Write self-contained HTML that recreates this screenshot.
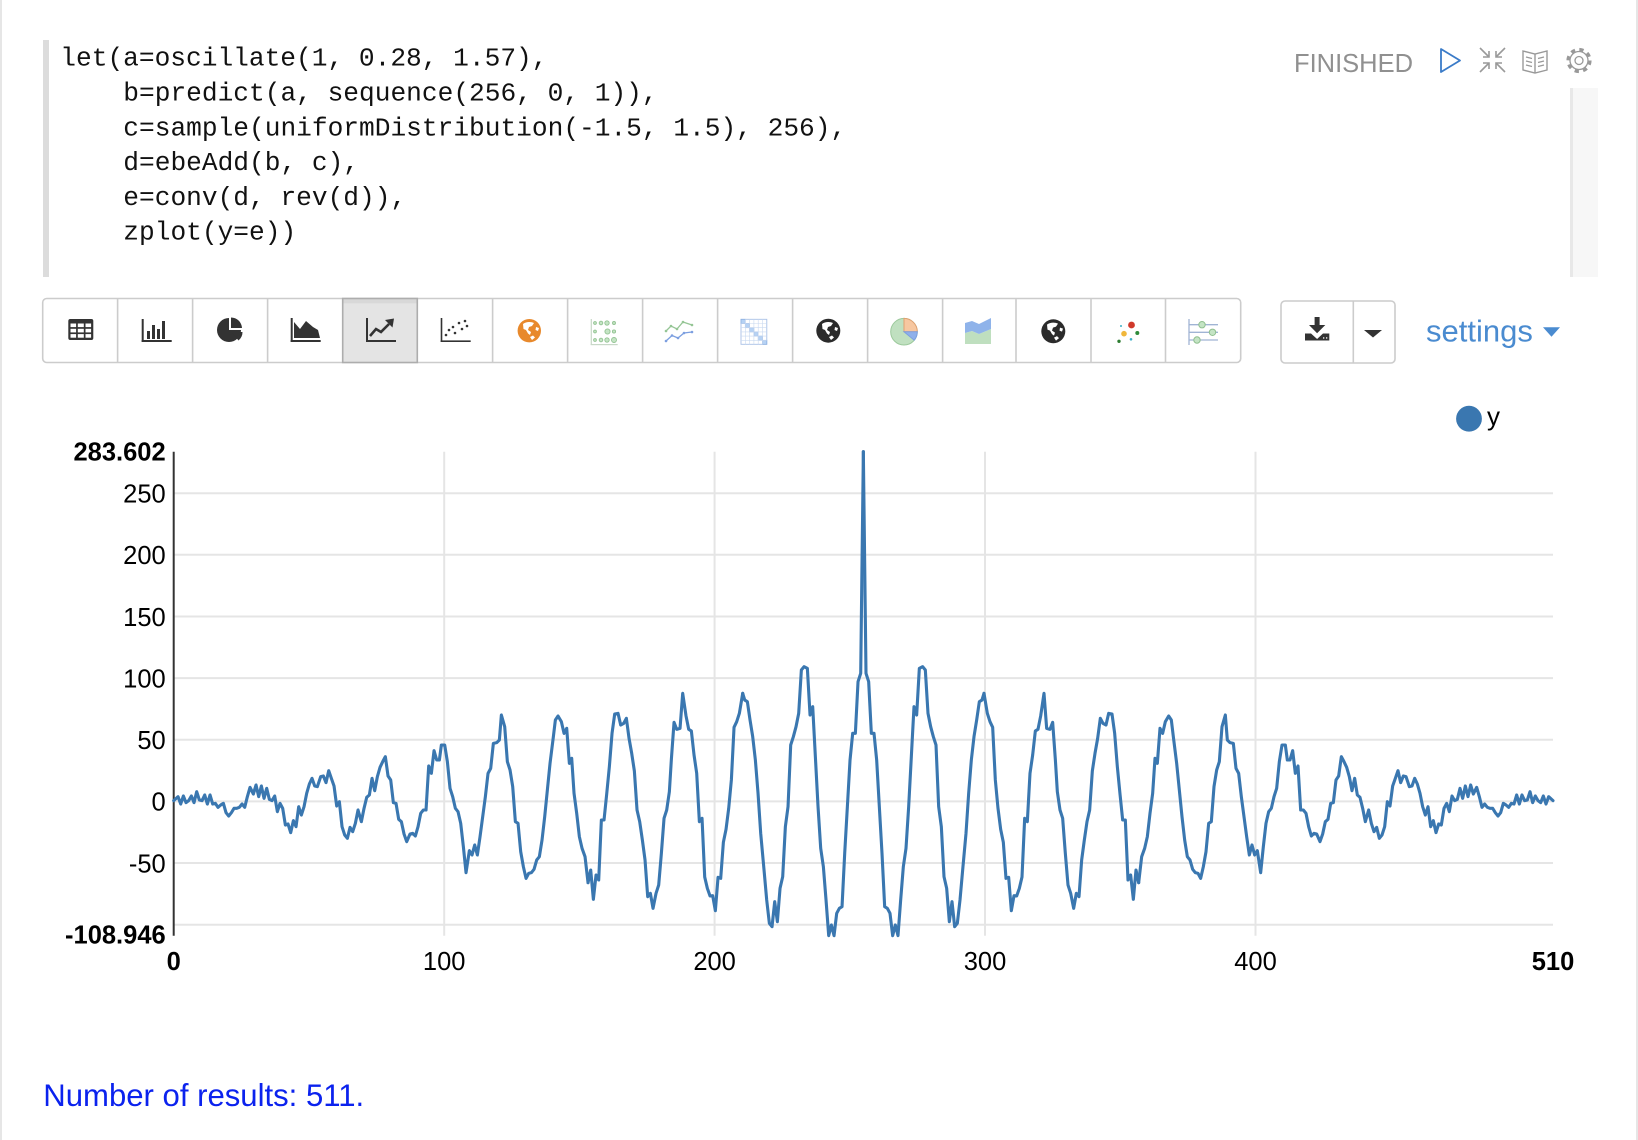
<!DOCTYPE html>
<html>
<head>
<meta charset="utf-8">
<style>
  html,body{margin:0;padding:0;background:#fff;}
  svg{display:block;}
  .mono{font-family:"Liberation Mono","DejaVu Sans Mono",monospace;}
  .sans{font-family:"Liberation Sans","DejaVu Sans",Arial,sans-serif;}
</style>
</head>
<body>
<svg width="1638" height="1140" viewBox="0 0 1638 1140" xmlns="http://www.w3.org/2000/svg">
  <rect x="0" y="0" width="1638" height="1140" fill="#fff"/>
  <!-- outer borders -->
  <rect x="0" y="0" width="2" height="1140" fill="#e6e6e6"/>
  <rect x="1636" y="0" width="2" height="1140" fill="#e6e6e6"/>

  <!-- code editor -->
  <rect x="43" y="40" width="6" height="237" fill="#dcdcdc"/>
  <rect x="1570" y="88" width="28" height="189" fill="#f7f7f7"/>
  <rect x="1570" y="88" width="3" height="189" fill="#e8e8e8"/>
  <g class="mono" font-size="26.2" fill="#111">
    <text x="60.3" y="65.7">let(a=oscillate(1, 0.28, 1.57),</text>
    <text x="123.3" y="100.5">b=predict(a, sequence(256, 0, 1)),</text>
    <text x="123.3" y="135.3">c=sample(uniformDistribution(-1.5, 1.5), 256),</text>
    <text x="123.3" y="170.1">d=ebeAdd(b, c),</text>
    <text x="123.3" y="204.9">e=conv(d, rev(d)),</text>
    <text x="123.3" y="239.7">zplot(y=e))</text>
  </g>

  <!-- FINISHED + top icons -->
  <text class="sans" x="1294" y="72" font-size="25.5" fill="#909090">FINISHED</text>
  <polygon points="1441,49 1460,60.5 1441,72" fill="none" stroke="#3a7bc8" stroke-width="1.8" stroke-linejoin="round"/>
  <g stroke="#999" stroke-width="1.6" fill="none">
    <line x1="1480" y1="48" x2="1489" y2="57"/><polyline points="1483,57 1489,57 1489,51"/>
    <line x1="1505" y1="48" x2="1496" y2="57"/><polyline points="1502,57 1496,57 1496,51"/>
    <line x1="1480" y1="72" x2="1489" y2="63"/><polyline points="1483,63 1489,63 1489,69"/>
    <line x1="1505" y1="72" x2="1496" y2="63"/><polyline points="1502,63 1496,63 1496,69"/>
  </g>
  <g stroke="#999" stroke-width="1.4" fill="none">
    <path d="M1523,51 L1535,54 L1547,51 L1547,70 L1535,73 L1523,70 Z"/>
    <line x1="1535" y1="54" x2="1535" y2="73"/>
    <line x1="1526" y1="57" x2="1532" y2="58.5"/><line x1="1526" y1="61" x2="1532" y2="62.5"/><line x1="1526" y1="65" x2="1532" y2="66.5"/>
    <line x1="1538" y1="58.5" x2="1544" y2="57"/><line x1="1538" y1="62.5" x2="1544" y2="61"/><line x1="1538" y1="66.5" x2="1544" y2="65"/>
  </g>
  <g fill="none" stroke="#999">
    <circle cx="1579" cy="60.5" r="11" stroke-width="3.2" stroke-dasharray="4.3 4.34"/>
    <circle cx="1579" cy="60.5" r="9" stroke-width="1.3"/>
    <circle cx="1579" cy="60.5" r="4" stroke-width="1.3"/>
  </g>

  <!-- toolbar -->
  <rect x="42.7" y="298.5" width="1198" height="64" rx="4" fill="#fff" stroke="#ccc" stroke-width="1.6"/>
  <rect x="342.7" y="299.3" width="74.6" height="62.4" fill="#e4e4e4"/>
  <rect x="342.7" y="299.3" width="74.6" height="4" fill="#d8d8d8"/>
  <rect x="342.7" y="298.5" width="74.6" height="64" fill="none" stroke="#adadad" stroke-width="1.6"/>
  <g stroke="#ccc" stroke-width="1.6">
    <line x1="117.6" y1="299" x2="117.6" y2="362"/>
    <line x1="192.6" y1="299" x2="192.6" y2="362"/>
    <line x1="267.6" y1="299" x2="267.6" y2="362"/>
    <line x1="492.6" y1="299" x2="492.6" y2="362"/>
    <line x1="567.6" y1="299" x2="567.6" y2="362"/>
    <line x1="642.6" y1="299" x2="642.6" y2="362"/>
    <line x1="717.6" y1="299" x2="717.6" y2="362"/>
    <line x1="792.6" y1="299" x2="792.6" y2="362"/>
    <line x1="867.6" y1="299" x2="867.6" y2="362"/>
    <line x1="942.6" y1="299" x2="942.6" y2="362"/>
    <line x1="1016" y1="299" x2="1016" y2="362"/>
    <line x1="1091" y1="299" x2="1091" y2="362"/>
    <line x1="1165.5" y1="299" x2="1165.5" y2="362"/>
  </g>

  <!-- icon 0 table -->
  <rect x="68.3" y="319" width="25" height="21" rx="2" fill="#333"/>
  <g fill="#fff">
    <rect x="70.5" y="323.5" width="5.6" height="3.6"/><rect x="77.8" y="323.5" width="6" height="3.6"/><rect x="85.5" y="323.5" width="5.6" height="3.6"/>
    <rect x="70.5" y="328.8" width="5.6" height="3.6"/><rect x="77.8" y="328.8" width="6" height="3.6"/><rect x="85.5" y="328.8" width="5.6" height="3.6"/>
    <rect x="70.5" y="334.1" width="5.6" height="3.6"/><rect x="77.8" y="334.1" width="6" height="3.6"/><rect x="85.5" y="334.1" width="5.6" height="3.6"/>
  </g>
  <!-- icon 1 bar -->
  <g fill="#333">
    <rect x="141.7" y="319" width="2" height="23"/><rect x="141.7" y="340" width="30" height="2"/>
    <rect x="147" y="331" width="3" height="8"/><rect x="152" y="325" width="3" height="14"/><rect x="157" y="329" width="3" height="10"/><rect x="162" y="321" width="3" height="18"/>
  </g>
  <!-- icon 2 pie -->
  <path d="M229,330 L241,330 A12,12 0 1 1 229,318 Z" fill="#333"/>
  <path d="M231,328 L231,317.5 A11,11 0 0 1 242,328 Z" fill="#333"/>
  <path d="M231.5,332 L242.5,332 A11,11 0 0 1 238.5,340.5 Z" fill="#333"/>
  <!-- icon 3 area -->
  <g fill="#333">
    <rect x="290.7" y="318" width="2" height="24"/><rect x="290.7" y="340" width="30" height="2"/>
    <polygon points="294,338 294,322 300,329 306,321 313,327 318,330 320,338"/>
  </g>
  <!-- icon 4 line -->
  <g fill="#333">
    <rect x="366" y="318" width="2" height="24"/><rect x="366" y="340" width="30" height="2"/>
  </g>
  <polyline points="370,336 376,329 381,332 389,324" fill="none" stroke="#333" stroke-width="2.6"/>
  <polygon points="385,320 394,318.5 392.5,327.5" fill="#333"/>
  <!-- icon 5 scatter -->
  <g fill="#333">
    <rect x="440.7" y="318" width="1.6" height="24"/><rect x="440.7" y="340.4" width="30" height="1.6"/>
    <circle cx="446" cy="335" r="1.3"/><circle cx="449" cy="330" r="1.3"/><circle cx="453" cy="327" r="1.3"/><circle cx="455" cy="333" r="1.3"/>
    <circle cx="459" cy="323" r="1.3"/><circle cx="462" cy="329" r="1.3"/><circle cx="465" cy="321" r="1.3"/><circle cx="467" cy="326" r="1.3"/>
  </g>
  <!-- icon 6 orange globe -->
  <circle cx="529.3" cy="330.7" r="11.7" fill="#e8892c"/>
  <path d="M523,324 C526,321.5 531,321.5 534,323 L532,326 L529,327 L528,330 L531,332 L530,335 L528,333.5 L526,330 L523.5,329 Z M530,337 L533,335.5 L535,337.5 L532,340 Z M536,327 L539,328 L538,331 L535.5,330 Z" fill="#fff"/>
  <!-- icon 7 dot grid -->
  <g>
    <rect x="590.7" y="319" width="1.2" height="26" fill="#c8d8c8"/><rect x="590.7" y="344" width="27" height="1.2" fill="#c8d8c8"/>
    <g fill="#c4e4c4" stroke="#93c393" stroke-width="0.9">
      <circle cx="595" cy="323" r="1.4"/><circle cx="601" cy="323" r="1.8"/><circle cx="607" cy="323" r="2.2"/><circle cx="614" cy="323" r="1.5"/>
      <circle cx="595" cy="331.5" r="1.4"/><circle cx="607.5" cy="331.5" r="2.6"/><circle cx="614" cy="331.5" r="1.6"/>
      <circle cx="595" cy="340" r="1.4"/><circle cx="601" cy="340" r="1.8"/><circle cx="607" cy="340" r="2.2"/><circle cx="614" cy="340" r="2.5"/>
    </g>
  </g>
  <!-- icon 8 two lines -->
  <polyline points="666,331 671,326 677,329 683,322 692,325" fill="none" stroke="#95c595" stroke-width="1.3"/>
  <g fill="#95c595"><circle cx="666" cy="331" r="1.3"/><circle cx="671" cy="326" r="1.3"/><circle cx="677" cy="329" r="1.3"/><circle cx="683" cy="322" r="1.3"/><circle cx="692" cy="325" r="1.3"/></g>
  <polyline points="666,341 672,335.5 678,338 684,333 692,332" fill="none" stroke="#7c9fe0" stroke-width="1.3"/>
  <g fill="#7c9fe0"><circle cx="666" cy="341" r="1.3"/><circle cx="672" cy="335.5" r="1.3"/><circle cx="678" cy="338" r="1.3"/><circle cx="684" cy="333" r="1.3"/><circle cx="692" cy="332" r="1.3"/></g>
  <!-- icon 9 heatmap -->
  <g>
    <rect x="741" y="319.3" width="25.8" height="25" fill="#fff" stroke="#a8c0e6" stroke-width="0.9"/>
    <g fill="#b6d2f4" stroke="#8aaee0" stroke-width="0.7">
      <rect x="741" y="319.3" width="4.3" height="4.2"/><rect x="745.3" y="323.5" width="4.3" height="4.2"/><rect x="749.6" y="327.7" width="4.3" height="4.2"/>
      <rect x="753.9" y="331.9" width="4.3" height="4.2"/><rect x="758.2" y="336.1" width="4.3" height="4.2"/><rect x="762.5" y="340.3" width="4.3" height="4"/>
    </g>
    <g stroke="#c9d9f0" stroke-width="0.6">
      <line x1="745.3" y1="319.3" x2="745.3" y2="344.3"/><line x1="749.6" y1="319.3" x2="749.6" y2="344.3"/><line x1="753.9" y1="319.3" x2="753.9" y2="344.3"/><line x1="758.2" y1="319.3" x2="758.2" y2="344.3"/><line x1="762.5" y1="319.3" x2="762.5" y2="344.3"/>
      <line x1="741" y1="323.5" x2="766.8" y2="323.5"/><line x1="741" y1="327.7" x2="766.8" y2="327.7"/><line x1="741" y1="331.9" x2="766.8" y2="331.9"/><line x1="741" y1="336.1" x2="766.8" y2="336.1"/><line x1="741" y1="340.3" x2="766.8" y2="340.3"/>
    </g>
  </g>
  <!-- icon 10 black globe -->
  <circle cx="828.3" cy="330.7" r="12" fill="#2b2b2b"/>
  <path d="M822,324 C825,321.5 830,321.5 833,323 L831,326 L828,327 L827,330 L830,332 L829,335 L827,333.5 L825,330 L822.5,329 Z M829,337 L832,335.5 L834,337.5 L831,340 Z M835,327 L838,328 L837,331 L834.5,330 Z" fill="#fff"/>
  <!-- icon 11 pastel pie -->
  <circle cx="904" cy="331.7" r="13.3" fill="#c0e0c0" stroke="#9cc99c" stroke-width="1"/>
  <path d="M904,331.7 L904,318.4 A13.3,13.3 0 0 1 917.3,331.7 Z" fill="#f7c7a0" stroke="#e0a070" stroke-width="1"/>
  <path d="M904,331.7 L917.3,331.7 A13.3,13.3 0 0 1 914.2,340.2 Z" fill="#8fb0ea" stroke="#7c9fe0" stroke-width="1"/>
  <!-- icon 12 stacked area -->
  <polygon points="965,344 965,333 972,331 979,334 991,329 991,344" fill="#bfdfbf"/>
  <polygon points="965,333 965,323 972,321 979,324 991,318 991,329 979,334 972,331" fill="#8fb3ea"/>
  <!-- icon 13 black globe -->
  <circle cx="1053.3" cy="331.3" r="12" fill="#2b2b2b"/>
  <path d="M1047,324.6 C1050,322.1 1055,322.1 1058,323.6 L1056,326.6 L1053,327.6 L1052,330.6 L1055,332.6 L1054,335.6 L1052,334.1 L1050,330.6 L1047.5,329.6 Z M1054,337.6 L1057,336.1 L1059,338.1 L1056,340.6 Z M1060,327.6 L1063,328.6 L1062,331.6 L1059.5,330.6 Z" fill="#fff"/>
  <!-- icon 14 colored dots -->
  <circle cx="1131.5" cy="325" r="3.4" fill="#d0392b"/>
  <circle cx="1124" cy="333.7" r="2.8" fill="#f0b73c"/>
  <circle cx="1137.3" cy="333" r="2" fill="#2e8b3a"/>
  <circle cx="1119" cy="341.3" r="1.7" fill="#2e7d32"/>
  <circle cx="1121" cy="326" r="1" fill="#3ab0c8"/>
  <circle cx="1131" cy="339.3" r="1.3" fill="#3ab0c8"/>
  <!-- icon 15 sliders -->
  <g stroke="#a0b4d4" stroke-width="1.3">
    <line x1="1189" y1="319" x2="1189" y2="345"/>
    <line x1="1189" y1="324.7" x2="1218" y2="324.7"/><line x1="1189" y1="332.3" x2="1218" y2="332.3"/><line x1="1189" y1="340" x2="1218" y2="340"/>
  </g>
  <g fill="#c4e4c4" stroke="#8fbf8f" stroke-width="1">
    <circle cx="1202" cy="324.7" r="3.2"/><circle cx="1212.5" cy="332.3" r="3.2"/><circle cx="1197" cy="340" r="3.2"/>
  </g>

  <!-- download group -->
  <rect x="1281" y="301" width="114" height="62" rx="4" fill="#fff" stroke="#ccc" stroke-width="1.6"/>
  <line x1="1353.3" y1="301.5" x2="1353.3" y2="362.5" stroke="#ccc" stroke-width="1.6"/>
  <g fill="#333">
    <rect x="1314.6" y="317" width="5" height="9"/>
    <polygon points="1309,325 1325.3,325 1317.1,333.3"/>
    <path d="M1305,333.5 L1311,333.5 L1317.1,339 L1323,333.5 L1329.3,333.5 L1329.3,340.5 L1305,340.5 Z"/>
  </g>
  <rect x="1323" y="337.3" width="1.3" height="1.3" fill="#fff"/><rect x="1326" y="337.3" width="1.3" height="1.3" fill="#fff"/>
  <polygon points="1364,330 1382,330 1373,337.5" fill="#333"/>

  <!-- settings -->
  <text class="sans" x="1426" y="341.7" font-size="31" fill="#4a8bd0">settings</text>
  <polygon points="1543,327.3 1560,327.3 1551.5,336.7" fill="#4a8bd0"/>

  <!-- legend -->
  <circle cx="1469" cy="418.7" r="12.9" fill="#3a77b0"/>
  <text class="sans" x="1487" y="425" font-size="26" fill="#000">y</text>

  <!-- chart grid -->
  <g stroke="#e5e5e5" stroke-width="2">
    <line x1="173.7" y1="493.2" x2="1553" y2="493.2"/>
    <line x1="173.7" y1="554.8" x2="1553" y2="554.8"/>
    <line x1="173.7" y1="616.5" x2="1553" y2="616.5"/>
    <line x1="173.7" y1="678.1" x2="1553" y2="678.1"/>
    <line x1="173.7" y1="739.8" x2="1553" y2="739.8"/>
    <line x1="173.7" y1="801.4" x2="1553" y2="801.4"/>
    <line x1="173.7" y1="863.0" x2="1553" y2="863.0"/>
    <line x1="173.7" y1="924.7" x2="1553" y2="924.7"/>
    <line x1="444.2" y1="451.8" x2="444.2" y2="935.7"/>
    <line x1="714.6" y1="451.8" x2="714.6" y2="935.7"/>
    <line x1="985.0" y1="451.8" x2="985.0" y2="935.7"/>
    <line x1="1255.5" y1="451.8" x2="1255.5" y2="935.7"/>
  </g>
  <line x1="173.7" y1="451.8" x2="173.7" y2="935.7" stroke="#333" stroke-width="2"/>

  <!-- y labels -->
  <g class="sans" font-size="25.5" fill="#000" text-anchor="end">
    <text x="165.7" y="460.5" font-weight="bold">283.602</text>
    <text x="165.7" y="502.5">250</text>
    <text x="165.7" y="564.1">200</text>
    <text x="165.7" y="625.8">150</text>
    <text x="165.7" y="687.4">100</text>
    <text x="165.7" y="749.1">50</text>
    <text x="165.7" y="810.7">0</text>
    <text x="165.7" y="872.3">-50</text>
    <text x="165.7" y="943.5" font-weight="bold">-108.946</text>
  </g>
  <!-- x labels -->
  <g class="sans" font-size="25.5" fill="#000" text-anchor="middle">
    <text x="173.7" y="970" font-weight="bold">0</text>
    <text x="444.2" y="970">100</text>
    <text x="714.6" y="970">200</text>
    <text x="985.0" y="970">300</text>
    <text x="1255.5" y="970">400</text>
    <text x="1553" y="970" font-weight="bold">510</text>
  </g>

  <!-- series -->
  <defs>
    <g id="rh" fill="none" stroke="#3a77b0" stroke-width="3.1" stroke-linejoin="round" stroke-linecap="round">
      <g transform="translate(700,440) scale(0.333333)">
        <polyline vector-effect="non-scaling-stroke" points="490,35 498,700 506,725 514,880 522,880 530,960 538,1100 546,1240 554,1400 562,1405 570,1420 578,1487 586,1455 594,1487 602,1380 610,1280 618,1225 626,1100 634,950 642,800 650,825 658,685 668,680 676,690 684,820 692,860 700,890 708,915 716,1100 724,1160 732,1310 740,1345 748,1445 756,1385 764,1460 772,1450 780,1380 788,1290 798,1180 806,1060 814,960 822,890 830,840 838,785 846,780 852,760"/>
      </g>
      <g transform="translate(980,640) scale(0.333333)">
        <polyline vector-effect="non-scaling-stroke" points="12,160 22,220 30,245 38,262 46,420 54,505 62,568 70,607 78,715 86,712 94,812 102,767 110,768 118,745 126,711 134,535 142,545 150,400 158,345 166,273 174,268 182,228 192,160 200,265 210,268 218,247 226,358 232,455 240,510 248,535 256,640 264,735 272,760 281,805 289,760 297,770 305,660 313,600 321,545 329,510 337,393 345,340 353,295 361,235 369,250 378,255 386,220 396,222 404,280 412,380 420,462 428,540 436,540 444,720 452,705 460,778 468,690 476,728"/>
      </g>
      <g transform="translate(1140,680) scale(0.333333)">
        <polyline vector-effect="non-scaling-stroke" points="-4,608 5,530 14,505 22,470 30,400 38,340 45,235 52,250 60,145 68,160 76,125 86,108 94,120 100,170 110,250 118,330 126,410 134,480 142,530 150,540 158,568 166,578 174,580 182,595 190,560 198,515 206,430 214,425 222,320 230,270 238,245 246,140 256,105 262,180 270,188 280,190 288,265 296,280 304,350 312,410 320,470 328,525 336,495 344,525 352,512 362,578 370,500 378,430 386,395 394,385 402,350 410,325 418,245 426,195 436,195 442,240 450,240 458,212 466,280 474,258 482,390 490,390 498,400 506,440 514,468 522,460 530,462 540,485 548,462 556,425 564,418 572,370 580,368 588,300 596,288 604,230 612,245 620,262 628,290 636,332 644,295 652,345 660,352 668,385 676,425 686,390 694,430 702,455 710,442 718,475 726,465 734,440 742,365 750,378 758,318 766,295 774,272 782,308 790,288 798,290 808,320 816,318 824,295 832,312 840,340 848,380 856,405 864,380 872,440 880,422 888,458 896,432 904,435 912,385 920,370 928,395 936,348 944,362 952,358 960,325 968,355 976,318 984,350 992,315 1000,342 1010,322 1018,350 1026,382 1034,372 1042,382 1050,385 1058,385 1066,398 1074,408 1082,398 1090,370 1098,375 1106,382 1114,370 1122,372 1130,345 1138,372 1146,345 1154,362 1162,360 1170,335 1178,368 1186,348 1194,362 1202,368 1210,348 1218,372 1226,350 1239,362"/>
      </g>
    </g>
  </defs>
  <use href="#rh"/>
  <use href="#rh" transform="translate(1726.7,0) scale(-1,1)"/>

  <!-- footer -->
  <text class="sans" x="43.3" y="1106" font-size="31.1" fill="#0b22ee">Number of results: 511.</text>
</svg>
</body>
</html>
